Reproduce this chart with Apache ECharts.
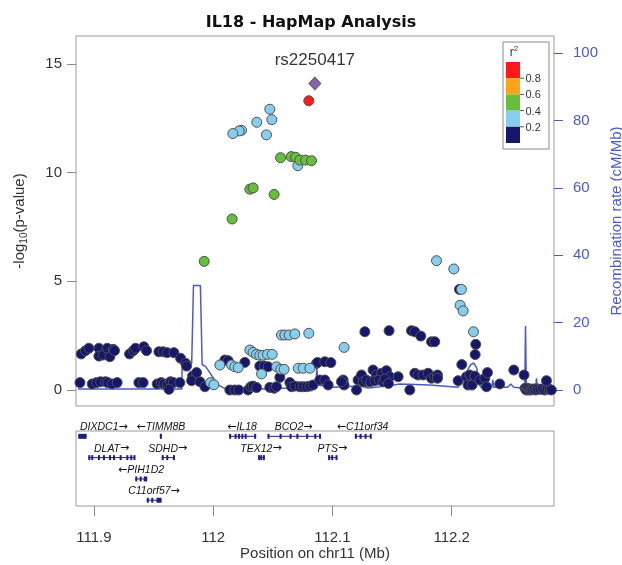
<!DOCTYPE html>
<html><head><meta charset="utf-8">
<script src="https://cdn.jsdelivr.net/npm/echarts@6/dist/echarts.min.js"></script>
<style>html,body{margin:0;padding:0;background:#fff}#c{width:622px;height:565px}</style>
</head><body><div id="c"></div>
<script>
// ---------- data ----------
const TITLE = 'IL18 - HapMap Analysis';
const LEAD_SNP = 'rs2250417';
const X_TICKS = [111.9, 112, 112.1, 112.2];
const Y_TICKS = [0, 5, 10, 15];
const RECOMB_TICKS = [0, 20, 40, 60, 80, 100];

// [position (Mb), -log10(p)]
const SNP_NAVY = [
  [111.8894,1.66],[111.8930,1.81],[111.8958,1.92],[111.9042,1.92],[111.9042,1.56],[111.9078,1.61],[111.9112,1.92],
  [111.9134,1.53],[111.9162,1.87],[111.9173,1.81],[111.9299,1.66],[111.9330,1.81],[111.9349,1.92],[111.9419,1.99],
  [111.9442,1.81],[111.9545,1.76],[111.9581,1.76],[111.9614,1.72],[111.9671,1.72],[111.9727,1.46],[111.9769,1.23],
  [111.8883,0.34],[111.8986,0.28],[111.9023,0.34],[111.9056,0.38],[111.9098,0.38],[111.9117,0.34],[111.9153,0.28],
  [111.9195,0.34],[111.9377,0.34],[111.9413,0.34],[111.9531,0.28],[111.9564,0.34],[111.9587,0.28],[111.9614,0.23],
  [111.9643,0.38],[111.9665,0.34],[111.9721,0.34],[111.9629,0.03],
  [111.9777,1.10],[111.9827,0.64],[111.9861,0.80],[111.9819,0.43],[111.9889,0.38],[111.9931,0.15],
  [112.0140,0.00],[112.0182,0.00],[112.0215,0.00],[112.0293,0.00],[112.0316,0.15],[112.0335,0.18],[112.0364,0.11],
  [112.0475,0.12],[112.0511,0.08],[112.0531,0.15],[112.0643,0.34],[112.0657,0.15],[112.0685,0.18],[112.0727,0.15],
  [112.0754,0.15],[112.0783,0.15],[112.0811,0.18],[112.0838,0.23],
  [112.0098,1.38],[112.0126,1.35],[112.0266,1.27],[112.0391,1.10],[112.0428,1.10],[112.0461,1.07],[112.0559,0.58],
  [112.0867,1.23],[112.0875,1.26],[112.0936,1.30],[112.0987,1.26],
  [112.1272,2.68],[112.1475,2.73],[112.1663,2.73],[112.1691,2.68],[112.1741,2.48],[112.1831,2.22],[112.1858,2.22],
  [112.2065,4.63],[112.2202,2.10],[112.2197,1.63],[112.2085,1.17],
  [112.0894,0.46],[112.0936,0.46],[112.0964,0.23],[112.1090,0.46],[112.1098,0.23],[112.1202,0.00],[112.1215,0.46],
  [112.1244,0.69],[112.1299,0.38],[112.1341,0.92],[112.1370,0.69],[112.1412,0.77],[112.1453,0.89],[112.1481,0.61],
  [112.1551,0.61],[112.1649,0.00],[112.1691,0.77],[112.1718,0.69],[112.1760,0.69],[112.1802,0.77],[112.1831,0.54],
  [112.1858,0.61],[112.1258,0.38],[112.1285,0.46],[112.1320,0.38],[112.1355,0.42],[112.1390,0.46],[112.1425,0.38],
  [112.1440,0.50],[112.1470,0.30],[112.1076,0.38],
  [112.1881,0.69],[112.1881,0.54],[112.2054,0.43],[112.2124,0.61],[112.2137,0.23],[112.2152,0.69],[112.2171,0.23],
  [112.2194,0.64],[112.2236,0.46],[112.2278,0.54],[112.2292,0.15],[112.2300,0.80],[112.2403,0.28],[112.2521,0.92],
  [112.2607,0.69],
  [112.2615,0.08],[112.2625,0.00],[112.2635,0.08],[112.2645,0.00],[112.2655,0.05],[112.2665,0.00],[112.2678,0.03],
  [112.2690,0.05],[112.2705,0.00],[112.2720,0.05],[112.2740,0.03],[112.2760,0.05],[112.2780,0.00],[112.2800,0.05],
  [112.2820,0.03],[112.2836,0.00],[112.2795,0.43]
];
const SNP_LIGHTBLUE = [
  [112.0475,12.92],[112.0492,12.44],[112.0366,12.32],[112.0238,11.95],[112.0218,11.92],[112.0165,11.80],[112.0447,11.74],
  [112.0710,10.32],
  [112.1873,5.95],[112.2018,5.57],[112.2082,4.63],[112.2071,3.90],[112.2096,3.64],[112.2183,2.68],
  [112.0573,2.53],[112.0601,2.53],[112.0637,2.53],[112.0685,2.58],[112.0802,2.61],[112.1098,1.96],
  [112.0308,1.84],[112.0335,1.73],[112.0364,1.64],[112.0391,1.60],[112.0419,1.60],[112.0456,1.64],[112.0495,1.64],
  [112.0406,0.74],[112.0531,1.07],[112.0567,0.95],[112.0595,0.95],[112.0713,1.00],[112.0755,1.00],[112.0811,1.00],
  [112.0056,1.15],[112.0154,1.15],[112.0182,1.07],[112.0210,1.03],[111.9978,0.34],[112.0006,0.24]
];
const SNP_GREEN = [
  [112.0565,10.69],[112.0654,10.74],[112.0691,10.71],[112.0727,10.58],[112.0775,10.58],[112.0825,10.55],
  [112.0308,9.24],[112.0335,9.30],[112.0511,9.00],[112.0159,7.87],[111.9925,5.92]
];
const SNP_RED = [[112.0802,13.31]];
const SNP_LEAD = [[112.0853,14.10]];

// recombination rate (cM/Mb)
const RECOMB_POS  = [111.8866,111.9737,111.9740,111.9820,111.9835,111.9893,111.9908,111.9936,112.0041,112.0112,
  112.0391,112.0600,112.0861,112.0869,112.0878,112.1000,112.1230,112.1300,112.1420,112.1565,112.1816,112.2051,
  112.2085,112.2118,112.2160,112.2186,112.2211,112.2223,112.2244,112.2336,112.2345,112.2353,112.2470,112.2495,
  112.2521,112.2613,112.2619,112.2626,112.2705,112.2711,112.2718,112.2839];
const RECOMB_RATE = [0.3,0.3,7.4,7.8,31,31,7.5,7,1.5,0.2,
  0.3,0.5,0.5,7,1.5,0.8,1.2,0.6,1.0,1.8,1.5,0.8,
  2.5,5,7.5,8,6.5,2.5,0.8,0.8,3,0.8,0.8,1.8,
  0.8,0.5,19,1,1,3.5,1,0.5];

// genes
const GENE_NAMES  = ['DIXDC1','TIMM8B','IL18','BCO2','C11orf34','DLAT','SDHD','TEX12','PTS','PIH1D2','C11orf57'];
const GENE_STRAND = [1,-1,-1,1,-1,1,1,1,1,-1,1];
const GENE_START  = [111.8869,111.9553,112.0134,112.0456,112.1188,111.8953,111.9567,112.0377,112.0964,111.9344,111.9441];
const GENE_END    = [111.8939,111.9570,112.0350,112.0894,112.1319,111.9344,111.9671,112.0425,112.1034,111.9447,111.9567];
const GENE_ROW    = [0,0,0,0,0,1,1,1,1,2,3];
const GENE_EXONS  = [
  [[111.8869,111.8939]],
  [[111.9553,111.9570]],
  [[112.0134,112.0140],[112.0180,112.0186],[112.0208,112.0214],[112.0236,112.0242],[112.0264,112.0270],[112.0344,112.0350]],
  [[112.0456,112.0464],[112.0557,112.0563],[112.0641,112.0647],[112.0698,112.0712],[112.0780,112.0786],[112.0848,112.0856],[112.0888,112.0894]],
  [[112.1188,112.1194],[112.1228,112.1234],[112.1270,112.1276],[112.1313,112.1319]],
  [[111.8953,111.8962],[111.8978,111.8984],[111.9034,111.9040],[111.9076,111.9082],[111.9127,111.9133],[111.9160,111.9166],[111.9216,111.9222],[111.9272,111.9278],[111.9305,111.9311],[111.9332,111.9344]],
  [[111.9569,111.9575],[111.9607,111.9613],[111.9663,111.9671]],
  [[112.0377,112.0383],[112.0395,112.0401],[112.0417,112.0425]],
  [[112.0964,112.0970],[112.0990,112.0996],[112.1026,112.1034]],
  [[111.9347,111.9353],[111.9384,111.9390],[111.9418,111.9447]],
  [[111.9444,111.9450],[111.9481,111.9487],[111.9525,111.9567]]
];

// LD legend
const LD_COLORS = ['#ff1a1a','#ffa31a','#66bf3a','#87cdee','#16166a'];
const LD_LABELS = ['0.8','0.6','0.4','0.2'];

// ---------- styles ----------
const X_MIN = 111.885, X_MAX = 112.2858;
const Y_MIN = -0.736, Y_MAX = 16.29;
const R_MIN = -4.75, R_MAX = 105.04;
const BLUE = '#4a5cc4';
const GENE_COLOR = '#1f1f80';
const TXT = '#333';
const FONT = '"Liberation Sans", Arial, sans-serif';
const GL = 76, GR = 554, GT = 36, GB = 406;

const ctx = document.createElement('canvas').getContext('2d');
function measure(t, font){ ctx.font = font; return ctx.measureText(t).width; }
const NAME_FONT = 'italic 10.5px "Liberation Sans"';
const ARROW_FONT = '11px "DejaVu Sans"';

function renderGene(params, api) {
  const i = api.value(3);
  const row = api.value(2);
  const p0 = api.coord([api.value(0), row]);
  const p1 = api.coord([api.value(1), row]);
  const children = [{type:'line', shape:{x1:p0[0], y1:p0[1], x2:p1[0], y2:p1[1]}, style:{stroke:GENE_COLOR, lineWidth:1}}];
  GENE_EXONS[i].forEach(function(ex){
    const a = api.coord([ex[0], row]), b = api.coord([ex[1], row]);
    const w = Math.max(2, b[0]-a[0]);
    children.push({type:'rect', shape:{x:a[0], y:a[1]-2.5, width:w, height:5}, style:{fill:GENE_COLOR}});
  });
  const nm = GENE_NAMES[i];
  const fwd = GENE_STRAND[i] > 0;
  const label = fwd ? '{n|' + nm + '}{a|\u2192}' : '{a|\u2190}{n|' + nm + '}';
  const w = measure(nm, NAME_FONT) + measure('\u2192', ARROW_FONT);
  const cs = params.coordSys;
  let cx = (p0[0]+p1[0])/2;
  cx = Math.max(cs.x + 4 + w/2, Math.min(cs.x + cs.width - 4 - w/2, cx));
  children.push({type:'text', x:cx, y:p0[1]-9, style:{text:label, align:'center', verticalAlign:'middle',
    rich:{n:{fontSize:10.5, fontStyle:'italic', fontFamily:'Liberation Sans', fill:'#111'},
          a:{fontSize:11, fontFamily:'DejaVu Sans', fill:'#111'}}}});
  return {type:'group', children:children};
}

function scatter(name, data, color, z) {
  return {name:name, type:'scatter', xAxisIndex:0, yAxisIndex:0, data:data, symbolSize:10, z:z,
    itemStyle:{color:color, borderColor:'#505050', borderWidth:1, opacity:1}, emphasis:{disabled:true}};
}

// legend graphics
const legendGraphics = [];
legendGraphics.push({type:'rect', shape:{x:503, y:42, width:46, height:107}, style:{fill:'#fff', stroke:'#8a8a8a', lineWidth:1}, z:100});
legendGraphics.push({type:'text', x:514, y:52, style:{text:'{r|r}{s|2}', align:'center', verticalAlign:'middle',
  rich:{r:{fontSize:12, fontFamily:'Liberation Sans', fill:'#333', lineHeight:14, verticalAlign:'bottom'}, s:{fontSize:8, fontFamily:'Liberation Sans', fill:'#333', lineHeight:8, verticalAlign:'top'}}}, z:101});
LD_COLORS.forEach(function(c, k){
  legendGraphics.push({type:'rect', shape:{x:506, y:62 + k*16.2, width:14, height:16.2}, style:{fill:c}, z:101});
});
LD_LABELS.forEach(function(t, k){
  const y = 62 + (k+1)*16.2;
  legendGraphics.push({type:'line', shape:{x1:520, y1:y, x2:524, y2:y}, style:{stroke:'#555', lineWidth:1}, z:101});
  legendGraphics.push({type:'text', x:525.5, y:y+1, style:{text:t, fontSize:11, fontFamily:'Liberation Sans', fill:'#333', align:'left', verticalAlign:'middle'}, z:101});
});

const option = {
  animation:false,
  backgroundColor:'#fff',
  title:{text:TITLE, left:'center', top:10, textStyle:{fontSize:16, fontWeight:'bold', fontFamily:'DejaVu Sans', color:'#111'}},
  grid:[
    {left:GL, top:GT, width:GR-GL, height:GB-GT, show:true, borderColor:'#9a9a9a', borderWidth:1, backgroundColor:'transparent', containLabel:false, outerBoundsMode:'none'},
    {left:GL, top:431, width:GR-GL, height:75, show:true, borderColor:'#9a9a9a', borderWidth:1, backgroundColor:'transparent', containLabel:false, outerBoundsMode:'none'}
  ],
  xAxis:[
    {type:'value', gridIndex:0, min:X_MIN, max:X_MAX, axisLine:{show:false, onZero:false}, axisTick:{show:false}, axisLabel:{show:false}, splitLine:{show:false}},
    {type:'value', gridIndex:1, min:X_MIN, max:X_MAX, position:'bottom',
      axisLine:{show:false, onZero:false},
      axisTick:{show:true, length:10, customValues:X_TICKS, lineStyle:{color:'#8a8a8a'}},
      axisLabel:{customValues:X_TICKS, fontSize:15, color:TXT, fontFamily:FONT, margin:24},
      splitLine:{show:false},
      name:'Position on chr11 (Mb)', nameLocation:'middle', nameGap:39,
      nameTextStyle:{fontSize:15, color:TXT, fontFamily:FONT}}
  ],
  yAxis:[
    {type:'value', gridIndex:0, min:Y_MIN, max:Y_MAX, position:'left',
      axisLine:{show:false, onZero:false},
      axisTick:{show:true, length:9, customValues:Y_TICKS, lineStyle:{color:'#8a8a8a'}},
      axisLabel:{customValues:Y_TICKS, fontSize:15, color:TXT, fontFamily:FONT, margin:14},
      splitLine:{show:false},
      name:'{a|-log}{s|10}{a|(p-value)}', nameLocation:'middle', nameGap:47,
      nameTextStyle:{rich:{a:{fontSize:15, color:TXT, fontFamily:FONT, lineHeight:18}, s:{fontSize:10, color:TXT, fontFamily:FONT, lineHeight:10, verticalAlign:'bottom'}}}},
    {type:'value', gridIndex:0, min:R_MIN, max:R_MAX, position:'right',
      axisLine:{show:false, onZero:false},
      axisTick:{show:true, length:9, customValues:RECOMB_TICKS, lineStyle:{color:BLUE}},
      axisLabel:{customValues:RECOMB_TICKS, fontSize:15, color:BLUE, fontFamily:FONT, margin:19},
      splitLine:{show:false},
      name:'Recombination rate (cM/Mb)', nameLocation:'middle', nameGap:50,
      nameTextStyle:{fontSize:15, color:BLUE, fontFamily:FONT}},
    {type:'value', gridIndex:1, min:-0.25, max:3.27, inverse:true, show:false}
  ],
  series:[
    {name:'recomb', type:'line', xAxisIndex:0, yAxisIndex:1, data:RECOMB_POS.map(function(p,i){return [p, RECOMB_RATE[i]];}),
      symbol:'none', lineStyle:{color:BLUE, width:1.5}, z:1, silent:true},
    scatter('r2<0.2', SNP_NAVY, LD_COLORS[4], 2),
    scatter('r2 0.2-0.4', SNP_LIGHTBLUE, LD_COLORS[3], 3),
    scatter('r2 0.4-0.6', SNP_GREEN, LD_COLORS[2], 4),
    scatter('r2>0.8', SNP_RED, LD_COLORS[0], 5),
    {name:'lead', type:'scatter', xAxisIndex:0, yAxisIndex:0, data:SNP_LEAD, symbol:'diamond', symbolSize:[12,13], z:6,
      itemStyle:{color:'#6a3d9a', borderColor:'#505050', borderWidth:1},
      label:{show:true, position:'top', distance:8, formatter:LEAD_SNP, fontSize:17, color:'#000', fontFamily:FONT}},
    {name:'genes', type:'custom', xAxisIndex:1, yAxisIndex:2, clip:false,
      data:GENE_NAMES.map(function(n,i){return [GENE_START[i], GENE_END[i], GENE_ROW[i], i];}),
      renderItem:renderGene, silent:true}
  ],
  graphic:legendGraphics
};
const chart = echarts.init(document.getElementById('c'), null, {renderer:'canvas'});
chart.setOption(option);
</script>
</body></html>
